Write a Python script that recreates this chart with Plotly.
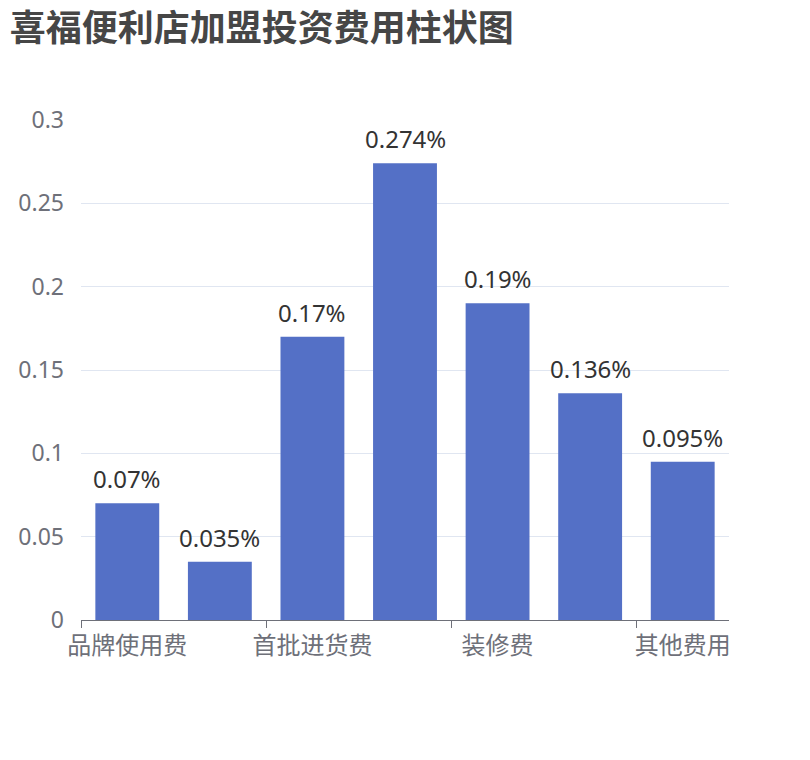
import plotly.graph_objects as go

categories = ["品牌使用费", "加盟保证金", "首批进货费", "设备费", "装修费", "房租", "其他费用"]
values = [0.07, 0.035, 0.17, 0.274, 0.19, 0.136, 0.095]
title_text = "喜福便利店加盟投资费用柱状图"

FONT = "Noto Sans CJK SC, Microsoft YaHei, sans-serif"
NUMFONT = "Noto Sans, Open Sans, sans-serif"

fig = go.Figure(
    go.Bar(
        x=categories,
        y=values,
        marker=dict(color="#5470C6", line=dict(width=0)),
        hoverinfo="skip",
    )
)

for c, v in zip(categories, values):
    fig.add_annotation(
        x=c, y=v, text=f"{v}%", showarrow=False,
        yanchor="bottom", yshift=6,
        font=dict(family=NUMFONT, size=24, color="#333333"),
    )

fig.update_layout(
    width=810,
    height=760,
    margin=dict(l=81, r=81, t=120, b=140),
    paper_bgcolor="white",
    plot_bgcolor="white",
    bargap=0.31,
    showlegend=False,
    font=dict(family=FONT),
    title=dict(
        text=f"<b>{title_text}</b>",
        x=0.012,
        xanchor="left",
        y=0.963,
        yanchor="middle",
        font=dict(family=FONT, size=36, color="#464646"),
    ),
    xaxis=dict(
        type="category",
        tickmode="linear",
        tick0=0,
        dtick=2,
        tickson="boundaries",
        ticks="outside",
        ticklen=7,
        tickcolor="#6E7079",
        tickangle=0,
        ticklabelstandoff=4,
        showline=True,
        linecolor="#6E7079",
        linewidth=1,
        showgrid=False,
        tickfont=dict(family=FONT, size=24, color="#6E7079"),
    ),
    yaxis=dict(
        range=[0, 0.3],
        dtick=0.05,
        showgrid=True,
        gridcolor="#E0E6F1",
        zeroline=False,
        showline=False,
        ticks="",
        ticklabelstandoff=16,
        tickfont=dict(family=NUMFONT, size=23, color="#6E7079"),
    ),
)

fig.write_html("out.html")
